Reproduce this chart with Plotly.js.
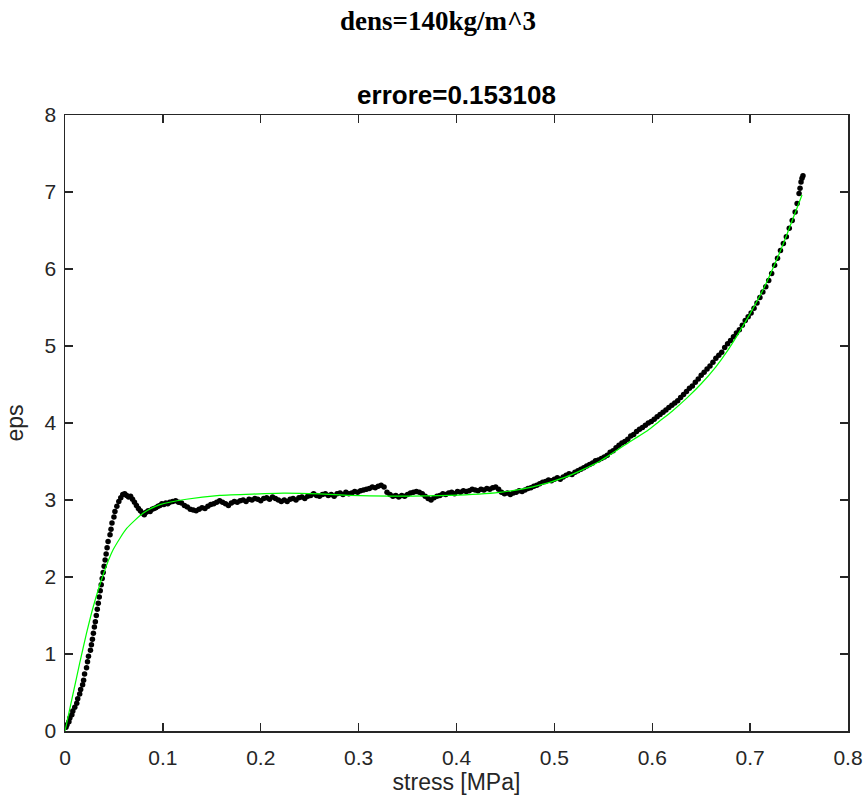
<!DOCTYPE html>
<html>
<head>
<meta charset="utf-8">
<script src="https://cdn.plot.ly/plotly-3.0.1.min.js"></script>
<style>html,body{margin:0;padding:0;background:#fff;}</style>
</head>
<body>
<div id="chart" style="width:867px;height:810px;"></div>
<script>
// Measured data (stress [MPa], eps)
var dataStress = [0.001,0.002,0.004,0.005,0.007,0.008,0.010,0.012,0.013,0.015,0.016,0.018,0.019,0.020,0.022,0.023,0.024,0.026,0.027,0.028,0.029,0.030,0.031,0.032,0.033,0.034,0.035,0.036,0.037,0.038,0.039,0.040,0.041,0.042,0.043,0.044,0.046,0.047,0.048,0.050,0.051,0.053,0.055,0.057,0.059,0.061,0.063,0.065,0.067,0.069,0.071,0.073,0.075,0.077,0.079,0.081,0.083,0.085,0.087,0.089,0.091,0.093,0.095,0.097,0.099,0.101,0.103,0.105,0.107,0.110,0.113,0.116,0.119,0.122,0.125,0.128,0.131,0.134,0.137,0.140,0.143,0.146,0.149,0.152,0.155,0.158,0.161,0.164,0.167,0.170,0.173,0.176,0.179,0.182,0.185,0.188,0.191,0.194,0.197,0.200,0.203,0.206,0.209,0.212,0.215,0.218,0.221,0.224,0.227,0.230,0.233,0.236,0.239,0.242,0.245,0.248,0.251,0.254,0.257,0.260,0.263,0.266,0.269,0.272,0.275,0.278,0.281,0.284,0.287,0.290,0.293,0.296,0.299,0.302,0.305,0.308,0.311,0.314,0.317,0.320,0.323,0.326,0.329,0.332,0.335,0.338,0.341,0.344,0.347,0.350,0.353,0.356,0.359,0.362,0.365,0.368,0.371,0.374,0.377,0.380,0.383,0.386,0.389,0.392,0.395,0.398,0.401,0.404,0.407,0.410,0.413,0.416,0.419,0.422,0.425,0.428,0.431,0.434,0.437,0.440,0.443,0.446,0.449,0.452,0.455,0.458,0.461,0.464,0.467,0.470,0.473,0.476,0.479,0.482,0.485,0.488,0.491,0.494,0.497,0.500,0.503,0.506,0.509,0.512,0.515,0.518,0.521,0.524,0.527,0.530,0.533,0.536,0.539,0.542,0.545,0.548,0.551,0.554,0.557,0.560,0.563,0.566,0.569,0.572,0.575,0.578,0.581,0.584,0.587,0.590,0.593,0.596,0.599,0.602,0.605,0.608,0.611,0.614,0.617,0.620,0.623,0.626,0.629,0.632,0.635,0.638,0.641,0.644,0.647,0.650,0.653,0.656,0.659,0.662,0.665,0.668,0.671,0.674,0.677,0.680,0.683,0.686,0.689,0.692,0.695,0.698,0.701,0.704,0.707,0.710,0.713,0.716,0.719,0.722,0.725,0.728,0.731,0.734,0.737,0.740,0.743,0.746,0.748,0.750,0.751,0.752,0.753,0.754];
var dataEps = [0.05,0.08,0.12,0.17,0.21,0.26,0.31,0.36,0.42,0.48,0.54,0.60,0.66,0.74,0.82,0.90,0.97,1.05,1.12,1.19,1.27,1.35,1.42,1.50,1.58,1.66,1.74,1.82,1.90,1.98,2.06,2.14,2.22,2.30,2.38,2.46,2.55,2.62,2.70,2.78,2.85,2.92,2.98,3.03,3.07,3.08,3.06,3.04,3.05,3.01,2.97,2.93,2.89,2.86,2.83,2.81,2.84,2.86,2.85,2.88,2.89,2.90,2.92,2.93,2.95,2.94,2.96,2.95,2.97,2.98,2.99,2.97,2.96,2.93,2.91,2.88,2.87,2.86,2.88,2.90,2.89,2.92,2.94,2.95,2.97,2.99,2.97,2.95,2.93,2.96,2.98,2.97,2.99,3.00,2.98,3.01,3.00,3.02,3.01,2.99,3.02,3.03,3.01,3.04,3.02,3.00,2.98,3.00,2.98,3.01,3.02,3.00,3.03,3.04,3.02,3.05,3.06,3.08,3.06,3.05,3.07,3.08,3.06,3.07,3.05,3.08,3.09,3.07,3.10,3.08,3.09,3.11,3.10,3.12,3.13,3.14,3.15,3.17,3.16,3.18,3.19,3.17,3.10,3.07,3.05,3.06,3.04,3.06,3.05,3.07,3.09,3.10,3.11,3.10,3.08,3.05,3.02,3.00,3.03,3.05,3.06,3.08,3.07,3.09,3.10,3.08,3.11,3.10,3.12,3.11,3.12,3.14,3.13,3.12,3.14,3.13,3.15,3.14,3.16,3.17,3.14,3.10,3.08,3.09,3.07,3.09,3.10,3.12,3.11,3.13,3.15,3.16,3.18,3.19,3.21,3.23,3.24,3.26,3.25,3.27,3.29,3.27,3.30,3.32,3.34,3.33,3.36,3.38,3.40,3.42,3.44,3.46,3.48,3.51,3.52,3.54,3.56,3.58,3.62,3.64,3.68,3.71,3.74,3.76,3.79,3.83,3.85,3.89,3.92,3.94,3.97,4.00,4.02,4.05,4.08,4.11,4.14,4.17,4.20,4.23,4.26,4.29,4.33,4.37,4.41,4.45,4.48,4.53,4.57,4.62,4.66,4.70,4.74,4.79,4.84,4.88,4.92,4.98,5.03,5.07,5.12,5.17,5.21,5.27,5.33,5.38,5.43,5.49,5.56,5.63,5.70,5.77,5.85,5.94,6.05,6.14,6.24,6.33,6.42,6.53,6.63,6.74,6.85,6.98,7.05,7.13,7.18,7.21];

// Fitted model curve
var fitStress = [0.000,0.0085,0.015,0.022,0.029,0.039,0.049,0.063,0.080,0.097,0.124,0.158,0.199,0.223,0.260,0.291,0.332,0.393,0.444,0.478,0.512,0.546,0.580,0.595,0.607,0.620,0.635,0.650,0.665,0.677,0.688,0.700,0.712,0.723,0.733,0.743,0.753];
var fitEps = [0.00,0.50,0.88,1.27,1.62,2.03,2.35,2.63,2.83,2.94,3.01,3.06,3.08,3.09,3.08,3.06,3.05,3.06,3.10,3.17,3.30,3.50,3.78,3.90,4.02,4.15,4.32,4.51,4.73,4.94,5.16,5.42,5.70,6.00,6.30,6.63,6.96];

var supTitle = "dens=140kg/m^3";
var axTitle = "errore=0.153108";
var xLabel = "stress [MPa]";
var yLabel = "eps";

var axColor = "#262626";
var traces = [
  {x: dataStress, y: dataEps, type: "scatter", mode: "markers",
   marker: {color: "#000000", size: 5.5}, hoverinfo: "skip", showlegend: false},
  {x: fitStress, y: fitEps, type: "scatter", mode: "lines",
   line: {color: "#00ff00", width: 1.2, shape: "spline", smoothing: 0.6}, showlegend: false}
];

var layout = {
  width: 867, height: 810,
  paper_bgcolor: "#ffffff", plot_bgcolor: "#ffffff",
  margin: {l: 65, r: 19, t: 115, b: 79, pad: 0},
  font: {family: "Liberation Sans, Arial, sans-serif", color: axColor, size: 21},
  title: {text: "<b>" + axTitle + "</b>", x: 0.5265, xanchor: "center", y: 1 - 95/810, yanchor: "middle",
          font: {family: "Liberation Sans, Arial, sans-serif", size: 26, color: "#000000"}},
  xaxis: {range: [0, 0.8], dtick: 0.1, tick0: 0, showgrid: false, zeroline: false,
          showline: true, linecolor: axColor, linewidth: 1.5, mirror: "ticks",
          ticks: "inside", ticklen: 8, tickwidth: 1.3, tickcolor: axColor,
          ticklabelstandoff: 7,
          tickfont: {size: 21, color: axColor},
          title: {text: xLabel, font: {size: 23, color: axColor}, standoff: 6}},
  yaxis: {range: [0, 8], dtick: 1, tick0: 0, showgrid: false, zeroline: false,
          showline: true, linecolor: axColor, linewidth: 1.5, mirror: "ticks",
          ticks: "inside", ticklen: 8, tickwidth: 1.3, tickcolor: axColor,
          ticklabelstandoff: 3,
          tickfont: {size: 21, color: axColor},
          title: {text: yLabel, font: {size: 23, color: axColor}, standoff: 14}},
  annotations: [
    {text: "<b>" + supTitle + "</b>", xref: "paper", yref: "paper", x: 0.476, y: (731 - 21) / 616,
     xanchor: "center", yanchor: "middle", showarrow: false,
     font: {family: "Liberation Serif, Times New Roman, serif", size: 27, color: "#000000"}}
  ]
};

Plotly.newPlot("chart", traces, layout, {displayModeBar: false, staticPlot: true});
</script>
</body>
</html>
